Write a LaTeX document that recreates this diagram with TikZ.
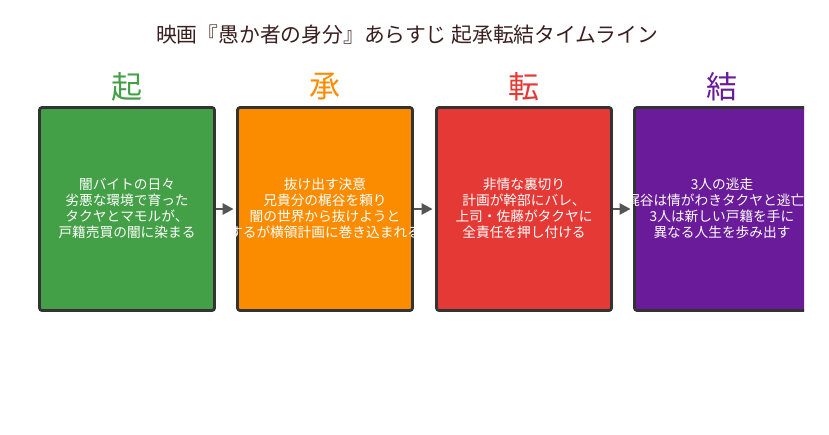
\documentclass[tikz,border=0pt]{standalone}
\usepackage{fontspec}
\setmainfont{Noto Sans CJK JP}
\usetikzlibrary{arrows.meta}
\definecolor{kigreen}{HTML}{43A047}
\definecolor{shoorange}{HTML}{FB8C00}
\definecolor{tenred}{HTML}{E53935}
\definecolor{ketsupurple}{HTML}{6A1B9A}
\definecolor{edgegray}{HTML}{333333}
\definecolor{arrowgray}{HTML}{555555}
\definecolor{titlecol}{HTML}{3A1F1F}
\tikzset{
  stagebox/.style={draw=edgegray, line width=2.8pt, rounded corners=2.5pt, minimum width=175pt, minimum height=203pt, inner sep=0pt},
  stagehead/.style={font=\fontsize{31}{34}\selectfont, inner sep=0pt},
  stagetext/.style={text=white, font=\fontsize{13.7}{16}\selectfont, align=center, inner sep=0pt},
  flow/.style={draw=arrowgray, line width=2.6pt, shorten >=2.5pt, -{Triangle[length=11pt,width=11pt]}},
}
\begin{document}
\begin{tikzpicture}[x=1pt,y=-1pt]
\useasboundingbox (0,0) rectangle (829,434);
\node[text=titlecol, font=\fontsize{20.8}{24}\selectfont, inner sep=0pt] (title) at (407,35) {映画『愚か者の身分』あらすじ 起承転結タイムライン};
\begin{scope}
\clip (0,0) rectangle (804,434);
\node[stagebox, fill=kigreen] (b1) at (127,209) {};
\node[stagebox, fill=shoorange] (b2) at (325,209) {};
\node[stagebox, fill=tenred] (b3) at (524,209) {};
\node[stagebox, fill=ketsupurple] (b4) at (722,209) {};
\node[stagehead, text=kigreen] (h1) at (127,87) {起};
\node[stagehead, text=shoorange] (h2) at (325,87) {承};
\node[stagehead, text=tenred] (h3) at (524,87) {転};
\node[stagehead, text=ketsupurple] (h4) at (722,87) {結};
\draw[flow] (b1.east) -- (b2.west);
\draw[flow] (b2.east) -- (b3.west);
\draw[flow] (b3.east) -- (b4.west);
\node[stagetext] (t1) at (127,208) {闇バイトの日々\\劣悪な環境で育った\\タクヤとマモルが、\\戸籍売買の闇に染まる};
\node[stagetext] (t3) at (524,208) {非情な裏切り\\計画が幹部にバレ、\\上司・佐藤がタクヤに\\全責任を押し付ける};
\end{scope}
\begin{scope}
\clip (232,100) rectangle (420,320);
\node[stagetext] (t2) at (325,208) {抜け出す決意\\兄貴分の梶谷を頼り\\闇の世界から抜けようと\\するが横領計画に巻き込まれる};
\end{scope}
\begin{scope}
\clip (631,100) rectangle (804,320);
\node[stagetext] (t4) at (722,208) {3人の逃走\\梶谷は情がわきタクヤと逃亡し\\3人は新しい戸籍を手に\\異なる人生を歩み出す};
\end{scope}
\end{tikzpicture}
\end{document}
